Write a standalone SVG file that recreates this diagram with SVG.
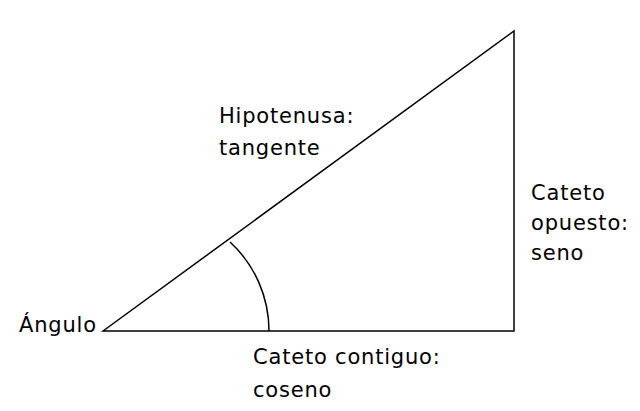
<svg xmlns="http://www.w3.org/2000/svg" width="640" height="411" viewBox="0 0 640 411">
<style>
.t{font-family:"DejaVu Sans",Verdana,sans-serif;font-size:21px;letter-spacing:0.8px;fill:#000}
.l{stroke:#000;stroke-width:1.5;fill:none}
</style>
<rect width="640" height="411" fill="#fff"/>
<g id="connectors">
<path class="l" d="M103,331 L514,31 L514,331 Z"/>
<path class="l" d="M230,242 A121,121 0 0 1 269,331"/>
</g>
<g id="angulo"><text class="t" x="19" y="332">Ángulo</text></g>
<g id="hipotenusa"><text class="t" x="219" y="123">Hipotenusa:</text><text class="t" x="219" y="155">tangente</text></g>
<g id="opuesto"><text class="t" x="531" y="200">Cateto</text><text class="t" x="531" y="230">opuesto:</text><text class="t" x="531" y="260">seno</text></g>
<g id="contiguo"><text class="t" x="253" y="364">Cateto contiguo:</text><text class="t" x="253" y="397">coseno</text></g>
</svg>
